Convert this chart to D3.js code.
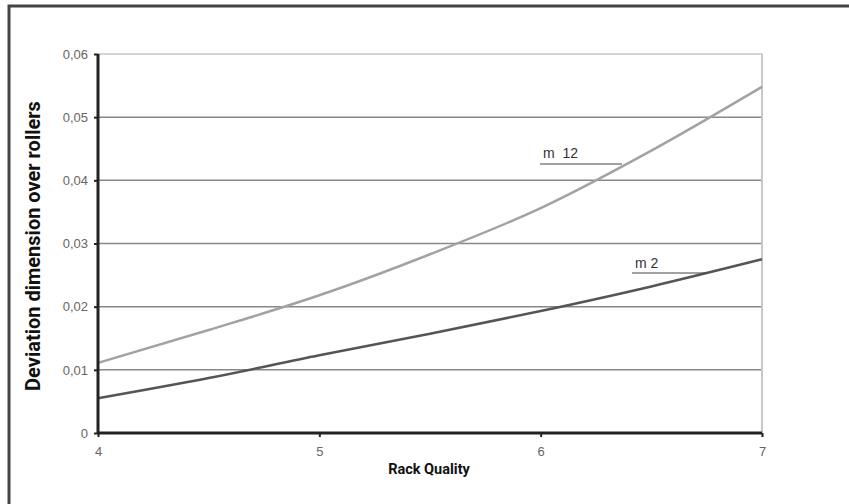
<!DOCTYPE html>
<html>
<head>
<meta charset="utf-8">
<script src="https://cdn.jsdelivr.net/npm/d3@7"></script>
<style>
  body { margin: 0; background: #fff; }
  svg { display: block; }
</style>
</head>
<body>
<svg id="chart"></svg>
<script>
// values
const quality = [4, 4.5, 5, 5.5, 6, 6.5, 7];
const m12 = [0.0111, 0.0163, 0.0218, 0.0283, 0.0356, 0.0447, 0.0548];
const m2 = [0.0055, 0.0087, 0.0123, 0.0157, 0.0193, 0.0232, 0.0275];
const xTicks = [4, 5, 6, 7];
const yTicks = [0, 0.01, 0.02, 0.03, 0.04, 0.05, 0.06];

const width = 849, height = 504;
const margin = { top: 54, right: 87, bottom: 71, left: 98 };

const svg = d3.select("#chart").attr("width", width).attr("height", height);

// outer frame (runs off right/bottom edges)
svg.append("rect")
    .attr("x", 9).attr("y", 6)
    .attr("width", width + 20).attr("height", height + 20)
    .attr("fill", "none").attr("stroke", "#444").attr("stroke-width", 3);

const x = d3.scaleLinear().domain([4, 7]).range([margin.left, width - margin.right]);
const y = d3.scaleLinear().domain([0, 0.06]).range([height - margin.bottom, margin.top]);

const fmt = d => d === 0 ? "0" : d3.format(".2f")(d).replace(".", ",");

// gridlines
svg.append("g")
    .selectAll("line")
    .data(yTicks.filter(d => d > 0))
    .join("line")
    .attr("x1", x(4)).attr("x2", x(7))
    .attr("y1", d => y(d)).attr("y2", d => y(d))
    .attr("stroke", d => d === 0.06 ? "#c4c4c4" : "#888")
    .attr("stroke-width", 1.5);

// right border of plot area
svg.append("line")
    .attr("x1", x(7)).attr("x2", x(7))
    .attr("y1", y(0.06)).attr("y2", y(0))
    .attr("stroke", "#c8c8c8").attr("stroke-width", 2);

// curves
const line = d3.line()
    .x((d, i) => x(quality[i]))
    .y(d => y(d))
    .curve(d3.curveMonotoneX);

svg.append("path").datum(m12)
    .attr("d", line).attr("fill", "none")
    .attr("stroke", "#a2a2a2").attr("stroke-width", 2.5);

svg.append("path").datum(m2)
    .attr("d", line).attr("fill", "none")
    .attr("stroke", "#555").attr("stroke-width", 2.5);

// axes
const yAxis = svg.append("g")
    .attr("transform", `translate(${x(4)},0)`)
    .call(d3.axisLeft(y).tickValues(yTicks).tickFormat(fmt).tickSize(4).tickPadding(6));
const xAxis = svg.append("g")
    .attr("transform", `translate(0,${y(0)})`)
    .call(d3.axisBottom(x).tickValues(xTicks).tickFormat(d3.format("d")).tickSize(4).tickPadding(10));

[xAxis, yAxis].forEach(g => {
  g.select(".domain").attr("stroke", "#222").attr("stroke-width", 3);
  g.selectAll(".tick line").attr("stroke", "#222").attr("stroke-width", 2);
  g.selectAll(".tick text")
      .attr("fill", "#666")
      .style("font-family", "'Liberation Sans', Arial, sans-serif")
      .style("font-size", "13px");
});
xAxis.select(".domain").attr("d", `M${x(4)},0H${x(7)}`);
yAxis.select(".domain").attr("d", `M0,${y(0)}V${y(0.06)}`);

// axis titles
svg.append("text")
    .attr("x", 429).attr("y", 474)
    .attr("text-anchor", "middle")
    .style("font-family", "Roboto, sans-serif")
    .style("font-weight", "bold").style("font-size", "14.5px")
    .attr("fill", "#111")
    .text("Rack Quality");

svg.append("text")
    .attr("transform", `translate(40,246) rotate(-90)`)
    .attr("text-anchor", "middle")
    .style("font-family", "Roboto, sans-serif")
    .style("font-weight", "bold").style("font-size", "20px")
    .attr("fill", "#111")
    .text("Deviation dimension over rollers");

// curve labels with leader lines
const labels = [
  { text: "m  12", tx: 543, ty: 158, x1: 540, x2: 622, ly: 164 },
  { text: "m 2", tx: 635, ty: 268, x1: 632, x2: 705, ly: 273 }
];
labels.forEach(l => {
  svg.append("text")
      .attr("x", l.tx).attr("y", l.ty)
      .style("font-family", "'Liberation Sans', Arial, sans-serif")
      .style("font-size", "14px")
      .style("white-space", "pre")
      .attr("fill", "#333")
      .text(l.text);
  svg.append("line")
      .attr("x1", l.x1).attr("x2", l.x2)
      .attr("y1", l.ly).attr("y2", l.ly)
      .attr("stroke", "#444").attr("stroke-width", 1);
});
</script>
</body>
</html>
